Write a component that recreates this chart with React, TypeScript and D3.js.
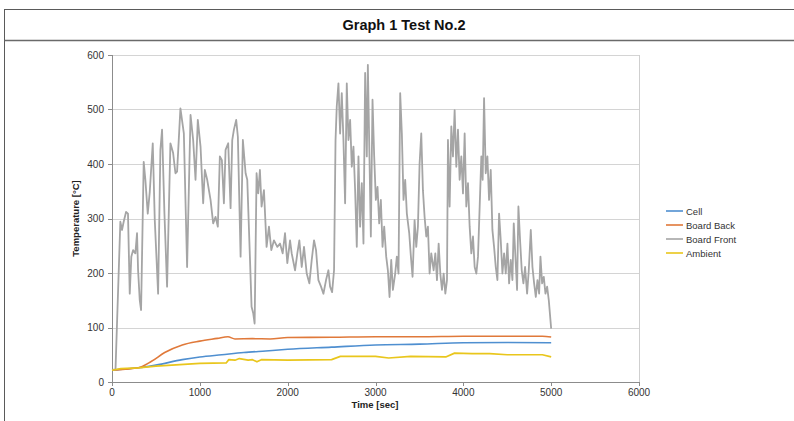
import React from "react";
import * as d3 from "d3";

const chartTitle = "Graph 1 Test No.2";
const seriesNames = ["Cell", "Board Back", "Board Front", "Ambient"];
const seriesColors = ["#4f8fd0", "#e0793a", "#a5a5a5", "#e9c61c"];
const xTicks = [0, 1000, 2000, 3000, 4000, 5000, 6000];
const yTicks = [0, 100, 200, 300, 400, 500, 600];

const cellTime = [0, 150, 300, 500, 800, 1000, 1250, 1500, 1750, 2000, 2500, 3000, 3500, 4000, 4500, 5000];
const cellTemp = [21.5, 24, 26, 31, 41, 46, 50, 54, 57, 60, 64, 68, 69.5, 72, 72.5, 72];

const boardBackTime = [0, 150, 300, 450, 600, 800, 1000, 1200, 1320, 1400, 1600, 1800, 2000, 2500, 3000, 3500, 4000, 4500, 4900, 5000];
const boardBackTemp = [21.5, 23.5, 26, 38, 54, 68, 75, 80, 83, 79, 79.5, 79, 81.6, 82, 83, 83, 84, 84, 84, 82.5];

const boardFrontTime = [0, 40, 95, 114, 133, 160, 182, 202, 220, 240, 266, 285, 297, 316, 331, 361, 380, 407, 430, 464, 487, 525, 551, 570, 597, 627, 665, 696, 722, 741, 779, 818, 855, 894, 924, 951, 977, 1008, 1038, 1057, 1084, 1122, 1152, 1179, 1205, 1228, 1251, 1274, 1293, 1323, 1350, 1369, 1388, 1414, 1433, 1464, 1490, 1521, 1540, 1570, 1589, 1608, 1624, 1646, 1665, 1684, 1703, 1730, 1760, 1787, 1814, 1844, 1882, 1913, 1943, 1970, 1996, 2027, 2046, 2084, 2110, 2133, 2160, 2186, 2217, 2247, 2274, 2300, 2323, 2350, 2380, 2407, 2437, 2464, 2483, 2506, 2528, 2545, 2559, 2578, 2597, 2616, 2635, 2654, 2673, 2692, 2711, 2730, 2749, 2768, 2787, 2806, 2825, 2844, 2863, 2882, 2901, 2913, 2932, 2947, 2966, 2985, 3004, 3023, 3042, 3061, 3080, 3099, 3122, 3141, 3160, 3179, 3198, 3224, 3243, 3262, 3281, 3300, 3319, 3338, 3357, 3384, 3403, 3422, 3445, 3464, 3483, 3502, 3521, 3540, 3559, 3578, 3597, 3616, 3635, 3662, 3681, 3700, 3719, 3738, 3757, 3776, 3795, 3814, 3825, 3844, 3863, 3882, 3901, 3920, 3939, 3958, 3977, 3996, 4015, 4034, 4053, 4072, 4091, 4110, 4129, 4148, 4167, 4186, 4205, 4220, 4236, 4255, 4274, 4293, 4312, 4331, 4350, 4369, 4388, 4407, 4426, 4445, 4464, 4483, 4502, 4521, 4540, 4559, 4574, 4593, 4612, 4627, 4646, 4665, 4684, 4703, 4726, 4745, 4768, 4787, 4806, 4825, 4844, 4863, 4878, 4897, 4916, 4935, 4954, 4973, 5000];
const boardFrontTemp = [22, 23, 294, 279, 294, 312, 309, 162, 230, 242, 236, 273, 205, 150, 132, 404, 371, 309, 349, 438, 297, 162, 426, 463, 309, 175, 438, 420, 383, 386, 502, 456, 211, 490, 444, 371, 481, 432, 328, 389, 371, 334, 291, 303, 285, 414, 407, 328, 426, 438, 319, 444, 463, 481, 450, 230, 444, 383, 371, 230, 138, 126, 107, 383, 346, 389, 322, 352, 248, 285, 242, 260, 248, 254, 236, 273, 218, 260, 236, 205, 236, 260, 211, 248, 199, 181, 224, 260, 242, 187, 175, 162, 187, 205, 175, 165, 205, 444, 506, 548, 456, 530, 444, 328, 548, 444, 481, 395, 432, 352, 248, 414, 285, 365, 254, 567, 414, 582, 407, 267, 518, 414, 334, 358, 291, 334, 248, 285, 230, 205, 156, 224, 169, 199, 230, 199, 530, 456, 334, 371, 309, 273, 230, 193, 297, 248, 285, 401, 456, 352, 303, 267, 285, 199, 236, 205, 236, 187, 254, 199, 169, 199, 162, 187, 444, 322, 469, 414, 499, 395, 463, 371, 414, 346, 456, 322, 365, 285, 236, 267, 211, 199, 230, 322, 414, 371, 521, 383, 414, 334, 389, 279, 248, 211, 187, 309, 260, 199, 236, 199, 254, 181, 224, 187, 291, 230, 169, 322, 260, 205, 181, 211, 162, 205, 279, 211, 181, 156, 187, 162, 230, 181, 193, 162, 175, 150, 98];

const ambientTime = [0, 100, 300, 500, 1000, 1300, 1330, 1400, 1450, 1550, 1600, 1650, 1700, 2000, 2500, 2600, 3000, 3150, 3400, 3800, 3900, 4100, 4300, 4500, 4900, 5000];
const ambientTemp = [21.5, 24.5, 26, 29, 34, 35, 41, 40, 43, 40, 41, 37, 41, 40, 41, 47, 47, 44, 47, 46, 53, 52, 52, 50, 50, 46];

const W = 794;
const H = 421;
const plot = { left: 112, right: 639, top: 55, bottom: 382 };

export default function App() {
  const x = d3.scaleLinear().domain([0, 6000]).range([plot.left, plot.right]);
  const y = d3.scaleLinear().domain([0, 600]).range([plot.bottom, plot.top]);
  const smooth = d3
    .line<[number, number]>()
    .x((d) => x(d[0]))
    .y((d) => y(d[1]))
    .curve(d3.curveMonotoneX);
  const straight = d3
    .line<[number, number]>()
    .x((d) => x(d[0]))
    .y((d) => y(d[1]));

  const series = [
    { name: seriesNames[0], color: seriesColors[0], t: cellTime, v: cellTemp, gen: smooth, w: 1.6 },
    { name: seriesNames[1], color: seriesColors[1], t: boardBackTime, v: boardBackTemp, gen: smooth, w: 1.6 },
    { name: seriesNames[2], color: seriesColors[2], t: boardFrontTime, v: boardFrontTemp, gen: straight, w: 1.8 },
    { name: seriesNames[3], color: seriesColors[3], t: ambientTime, v: ambientTemp, gen: straight, w: 1.7 },
  ];

  const font = "'Liberation Sans', Arial, sans-serif";

  return (
    <svg
      width={W}
      height={H}
      style={{ position: "absolute", left: 0, top: 0, background: "#fff" }}
      fontFamily={font}
    >
      <rect x={0} y={0} width={W} height={H} fill="#fff" />
      <rect x={4.5} y={9.5} width={W + 10} height={H + 10} fill="none" stroke="#5a5a5a" strokeWidth={1} />
      <line x1={4.5} x2={W} y1={40.5} y2={40.5} stroke="#6a6a6a" strokeWidth={1.3} />
      <text x={404} y={30} textAnchor="middle" fontSize={14.5} fontWeight="bold" fill="#111">
        {chartTitle}
      </text>

      {yTicks.map((t) => (
        <line key={"g" + t} x1={plot.left} x2={plot.right} y1={Math.round(y(t)) + 0.5} y2={Math.round(y(t)) + 0.5} stroke="#d4d4d4" strokeWidth={1} />
      ))}
      <line x1={plot.right + 0.5} x2={plot.right + 0.5} y1={plot.top} y2={plot.bottom} stroke="#cfcfcf" />
      <line x1={plot.left + 0.5} x2={plot.left + 0.5} y1={plot.top} y2={plot.bottom} stroke="#8c8c8c" />
      <line x1={plot.left} x2={plot.right} y1={plot.bottom + 0.5} y2={plot.bottom + 0.5} stroke="#8c8c8c" />
      {yTicks.map((t) => (
        <g key={"y" + t}>
          <line x1={plot.left - 4} x2={plot.left} y1={Math.round(y(t)) + 0.5} y2={Math.round(y(t)) + 0.5} stroke="#8c8c8c" />
          <text x={plot.left - 8} y={y(t) + 3.5} textAnchor="end" fontSize={10} fill="#333">
            {t}
          </text>
        </g>
      ))}
      {xTicks.map((t) => (
        <g key={"x" + t}>
          <line x1={Math.round(x(t)) + 0.5} x2={Math.round(x(t)) + 0.5} y1={plot.bottom} y2={plot.bottom + 4} stroke="#8c8c8c" />
          <text x={x(t)} y={plot.bottom + 14} textAnchor="middle" fontSize={10} fill="#333">
            {t}
          </text>
        </g>
      ))}
      <text x={375} y={408} textAnchor="middle" fontSize={9.5} fontWeight="bold" fill="#222">
        Time [sec]
      </text>
      <text transform={`translate(79,${(plot.top + plot.bottom) / 2}) rotate(-90)`} textAnchor="middle" fontSize={9.5} fontWeight="bold" fill="#222">
        Temperature [°C]
      </text>

      {series.map((s) => (
        <path
          key={s.name}
          d={s.gen(s.t.map((t, i) => [t, s.v[i]] as [number, number])) || ""}
          fill="none"
          stroke={s.color}
          strokeWidth={s.w}
          strokeLinejoin="round"
        />
      ))}

      {series.map((s, i) => (
        <g key={"l" + s.name} transform={`translate(666,${211 + i * 14})`}>
          <line x1={0} x2={17} y1={0} y2={0} stroke={s.color} strokeWidth={1.6} />
          <text x={20} y={3.5} fontSize={9.5} fill="#333">
            {s.name}
          </text>
        </g>
      ))}
    </svg>
  );
}
